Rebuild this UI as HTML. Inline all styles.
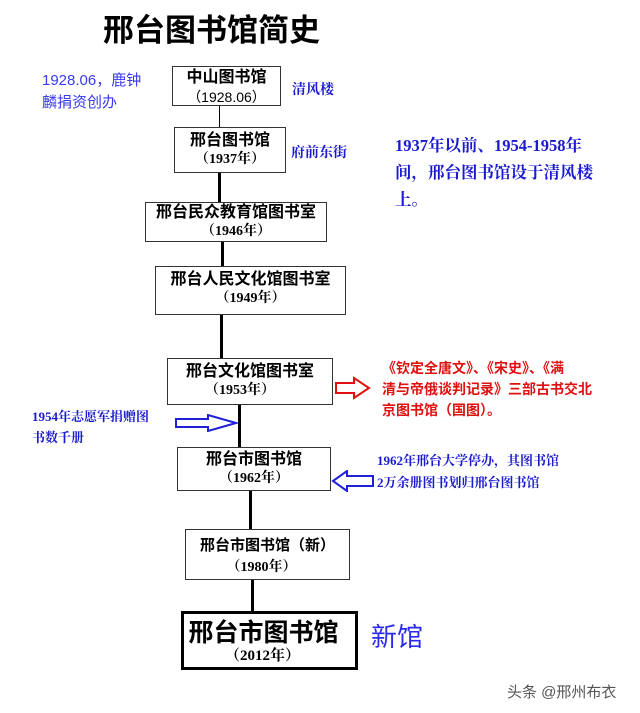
<!DOCTYPE html>
<html><head><meta charset="utf-8"><style>
body{margin:0;width:640px;height:713px;background:#fff;position:relative;overflow:hidden;font-family:"Liberation Serif","Noto Serif CJK SC","Noto Sans CJK SC",serif;}
.a{position:absolute;white-space:nowrap;}
.box{position:absolute;border:1.5px solid #333;box-sizing:border-box;text-align:center;font-weight:bold;color:#000;background:#fff;}
.box .t{font-family:"Liberation Sans","Noto Sans CJK SC",sans-serif;font-size:16px;line-height:20px;}
.box .y{font-size:14px;line-height:18px;}
.v{position:absolute;width:3px;background:#000;}
.blue{color:#1a1ad0;font-weight:bold;font-family:"Liberation Serif","Noto Serif CJK SC",serif;}
</style></head><body>
<div class="a" style="left:103px;top:5px;font-size:31px;font-weight:bold;font-family:'Liberation Sans','Noto Sans CJK SC',sans-serif;">邢台图书馆简史</div>

<div class="a" style="left:42px;top:70px;font-size:15px;line-height:22px;color:#3a3af0;font-family:'Liberation Sans','Noto Sans CJK SC',sans-serif;">1928.06，鹿钟<br>麟捐资创办</div>

<div class="v" style="left:219px;top:105px;height:22px;width:1px;"></div>
<div class="v" style="left:218px;top:172px;height:30px;"></div>
<div class="v" style="left:221px;top:241px;height:25px;"></div>
<div class="v" style="left:220px;top:314px;height:44px;"></div>
<div class="v" style="left:238px;top:404px;height:43px;"></div>
<div class="v" style="left:249px;top:490px;height:39px;"></div>
<div class="v" style="left:251px;top:580px;height:31px;"></div>

<div class="box" style="left:172px;top:66px;width:109px;height:40px;padding-top:1px;"><div class="t">中山图书馆</div><div class="y" style="font-weight:normal;font-family:'Liberation Sans',sans-serif;">（1928.06）</div></div>
<div class="a blue" style="left:292px;top:79px;font-size:14px;">清风楼</div>

<div class="box" style="left:174px;top:127px;width:112px;height:46px;padding-top:3px;"><div class="t">邢台图书馆</div><div class="y">（1937年）</div></div>
<div class="a blue" style="left:291px;top:142px;font-size:14px;">府前东街</div>

<div class="a blue" style="left:395px;top:132px;font-size:16.5px;line-height:27px;">1937年以前、1954-1958年<br>间，邢台图书馆设于清风楼<br>上。</div>

<div class="box" style="left:145px;top:202px;width:182px;height:40px;"><div class="t">邢台民众教育馆图书室</div><div class="y">（1946年）</div></div>
<div class="box" style="left:155px;top:266px;width:191px;height:49px;padding-top:3px;"><div class="t">邢台人民文化馆图书室</div><div class="y">（1949年）</div></div>
<div class="box" style="left:167px;top:358px;width:166px;height:47px;padding-top:3px;"><div class="t">邢台文化馆图书室</div><div class="y" style="margin-left:-20px">（1953年）</div></div>

<svg class="a" style="left:334px;top:376px" width="38" height="24"><path d="M2 7 H20 V2 L35 12 L20 22 V17 H2 Z" fill="#fff" stroke="#e01010" stroke-width="2"/></svg>
<div class="a" style="left:382px;top:358px;font-size:14px;line-height:21px;color:#e01010;font-weight:bold;font-family:'Liberation Sans','Noto Sans CJK SC',sans-serif;">《钦定全唐文》、《宋史》、《满<br>清与帝俄谈判记录》三部古书交北<br>京图书馆（国图）。</div>

<div class="a blue" style="left:32px;top:406px;font-size:13px;line-height:21px;">1954年志愿军捐赠图<br>书数千册</div>
<svg class="a" style="left:174px;top:414px" width="64" height="18"><path d="M2 5 H34 V1 L62 9 L34 17 V13 H2 Z" fill="#fff" stroke="#2020d8" stroke-width="2"/></svg>

<div class="box" style="left:177px;top:447px;width:154px;height:44px;padding-top:2px;"><div class="t">邢台市图书馆</div><div class="y">（1962年）</div></div>
<svg class="a" style="left:331px;top:470px" width="44" height="22"><path d="M42 6 H16 V1 L2 11 L16 21 V16 H42 Z" fill="#fff" stroke="#2020d8" stroke-width="2"/></svg>
<div class="a blue" style="left:377px;top:450px;font-size:13px;line-height:22px;">1962年邢台大学停办，其图书馆<br>2万余册图书划归邢台图书馆</div>

<div class="box" style="left:185px;top:529px;width:165px;height:51px;padding-top:6px;"><div class="t" style="font-size:15px">邢台市图书馆（新）</div><div class="y" style="margin-top:3px;margin-left:-12px">（1980年）</div></div>

<div class="box" style="left:181px;top:611px;width:177px;height:59px;border:3px solid #000;padding-top:4px;"><div class="t" style="font-size:25px;line-height:30px;margin-left:-12px">邢台市图书馆</div><div class="y" style="font-size:15px;line-height:16px;margin-left:-14px">（2012年）</div></div>
<div class="a" style="left:371px;top:617px;font-size:26px;color:#2a2af0;font-family:'Liberation Sans','Noto Sans CJK SC',sans-serif;">新馆</div>

<div class="a" style="left:507px;top:681px;font-size:15px;color:#555;font-family:'Liberation Sans','Noto Sans CJK SC',sans-serif;">头条 @邢州布衣</div>
</body></html>
